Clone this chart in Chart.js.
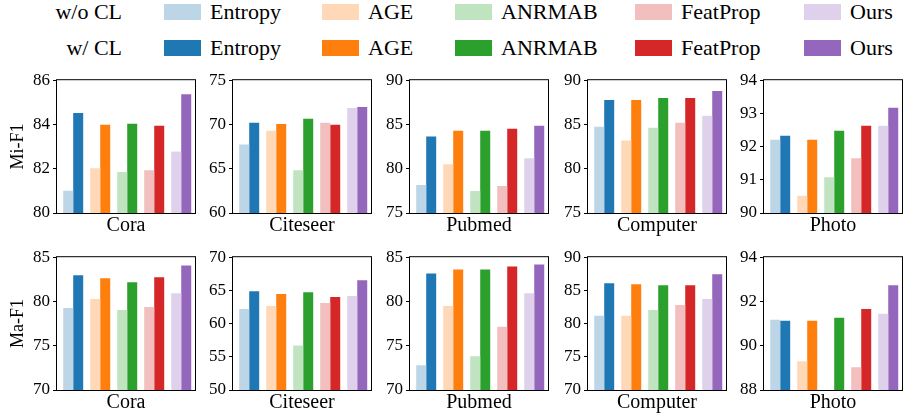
<!DOCTYPE html>
<html><head><meta charset="utf-8">
<script src="https://cdn.jsdelivr.net/npm/chart.js@4/dist/chart.umd.min.js"></script>
<style>
html,body{margin:0;padding:0;background:#fff;}
body{width:903px;height:416px;position:relative;overflow:hidden;font-family:"Liberation Serif",serif;color:#000;}
canvas{position:absolute;}
.lgt{position:absolute;font-size:22px;line-height:22px;white-space:nowrap;}
.lgb{position:absolute;width:37px;height:16px;}
</style></head><body>
<script>
// ---- data ----
const methods = ['Entropy','AGE','ANRMAB','FeatProp','Ours'];
const datasetNames = ['Cora','Citeseer','Pubmed','Computer','Photo'];
const rowTitles = ['Mi-F1','Ma-F1'];
const legendRowLabels = ['w/o CL','w/ CL'];

// Mi-F1, without / with CL
const coraMiWo     = [81.00, 82.02, 81.85, 81.93, 82.78];
const coraMiW      = [84.52, 83.99, 84.03, 83.94, 85.37];
const citeseerMiWo = [67.74, 69.30, 64.84, 70.20, 71.87];
const citeseerMiW  = [70.20, 70.05, 70.64, 69.97, 71.98];
const pubmedMiWo   = [78.16, 80.51, 77.49, 78.05, 81.18];
const pubmedMiW    = [83.63, 84.30, 84.30, 84.53, 84.86];
const computerMiWo = [84.75, 83.19, 84.64, 85.20, 85.98];
const computerMiW  = [87.76, 87.76, 87.99, 87.99, 88.77];
const photoMiWo    = [92.21, 90.52, 91.08, 91.65, 92.63];
const photoMiW     = [92.33, 92.21, 92.48, 92.63, 93.17];

// Ma-F1, without / with CL
const coraMaWo     = [79.27, 80.27, 79.04, 79.38, 80.94];
const coraMaW      = [82.95, 82.62, 82.17, 82.73, 84.07];
const citeseerMaWo = [62.21, 62.66, 56.70, 63.10, 64.14];
const citeseerMaW  = [64.89, 64.44, 64.74, 64.00, 66.53];
const pubmedMaWo   = [72.79, 79.49, 73.80, 77.15, 80.94];
const pubmedMaW    = [83.17, 83.62, 83.62, 83.96, 84.18];
const computerMaWo = [81.17, 81.17, 82.06, 82.80, 83.70];
const computerMaW  = [86.08, 85.93, 85.78, 85.78, 87.42];
const photoMaWo    = [91.17, 89.30, 87.80, 89.03, 91.44];
const photoMaW     = [91.13, 91.13, 91.26, 91.66, 92.73];

// y axis [min, max, step]
const miAxis = [[80,86,2],[60,75,5],[75,90,5],[75,90,5],[90,94,1]];
const maAxis = [[70,85,5],[50,70,5],[70,85,5],[70,90,5],[88,94,2]];

const solidColors = ['#1f77b4','#ff7f0e','#2ca02c','#d62728','#9467bd'];
const lightColors = ['#bcd6e8','#ffd9b7','#c0e3c0','#f3bebe','#dfd1eb'];

const rowsWo = [[coraMiWo,citeseerMiWo,pubmedMiWo,computerMiWo,photoMiWo],[coraMaWo,citeseerMaWo,pubmedMaWo,computerMaWo,photoMaWo]];
const rowsW  = [[coraMiW,citeseerMiW,pubmedMiW,computerMiW,photoMiW],[coraMaW,citeseerMaW,pubmedMaW,computerMaW,photoMaW]];
const rowsAxis = [miAxis, maAxis];

// ---- layout ----
const FONT = 'Liberation Serif';
Chart.defaults.font.family = FONT;
Chart.defaults.color = '#000';
const plotLefts = [57,233,410,588,764];
const plotTops = [79,256];
const plotW = 138, plotH = 134, padTop = 12, xH = 24;

// legend
legendRowLabels.forEach((lab, r) => {
  const cy = r === 0 ? 12 : 48;
  const t = document.createElement('div');
  t.className = 'lgt'; t.textContent = lab;
  t.style.right = (903 - 122) + 'px'; t.style.top = (cy - 11) + 'px';
  document.body.appendChild(t);
  const boxX = [164,322,455,635,804];
  methods.forEach((m, i) => {
    const b = document.createElement('div');
    b.className = 'lgb';
    b.style.left = boxX[i] + 'px'; b.style.top = (cy - 8) + 'px';
    b.style.background = r === 0 ? lightColors[i] : solidColors[i];
    document.body.appendChild(b);
    const tx = document.createElement('div');
    tx.className = 'lgt'; tx.textContent = m;
    tx.style.left = (boxX[i] + 46) + 'px'; tx.style.top = (cy - 11) + 'px';
    document.body.appendChild(tx);
  });
});

const framePlugin = {
  id: 'frame',
  afterDraw(chart) {
    const {ctx, chartArea: a} = chart;
    ctx.save();
    ctx.strokeStyle = '#000';
    ctx.lineWidth = 1;
    ctx.strokeRect(a.left - 0.5, a.top - 0.5, a.right - a.left + 1, a.bottom - a.top + 1);
    ctx.restore();
  }
};

for (let r = 0; r < 2; r++) {
  for (let d = 0; d < 5; d++) {
    const axisW = d === 0 ? 57 : 40;
    const cv = document.createElement('canvas');
    const W = axisW + plotW + 1, H = padTop + plotH + xH;
    cv.width = W; cv.height = H;
    cv.style.width = W + 'px'; cv.style.height = H + 'px';
    cv.style.left = (plotLefts[d] - axisW) + 'px';
    cv.style.top = (plotTops[r] - padTop) + 'px';
    document.body.appendChild(cv);
    const [ymin, ymax, step] = rowsAxis[r][d];
    const wo = rowsWo[r][d], w = rowsW[r][d];
    new Chart(cv, {
      type: 'bar',
      data: {
        datasets: [
          { label: 'w/o CL', data: wo.map((v,i)=>({x:i,y:v})), backgroundColor: lightColors, borderWidth: 0 },
          { label: 'w/ CL', data: w.map((v,i)=>({x:i,y:v})), backgroundColor: solidColors, borderWidth: 0 }
        ]
      },
      options: {
        responsive: false, animation: false, devicePixelRatio: 1,
        layout: { padding: { top: padTop, right: 1, left: 0, bottom: 0 } },
        categoryPercentage: 0.74, barPercentage: 1.0,
        plugins: { legend: { display: false }, tooltip: { enabled: false } },
        scales: {
          x: {
            type: 'linear', min: -0.6, max: 4.51, offset: false,
            ticks: { display: false },
            grid: { display: false }, border: { display: false },
            title: { display: true, text: datasetNames[d], font: { size: 20, lineHeight: 1 }, color: '#000', padding: { top: 0, bottom: 1.5 } },
            afterFit(s) { s.height = xH; }
          },
          y: {
            min: ymin, max: ymax,
            ticks: { stepSize: step, font: { size: 17 }, color: '#000', padding: 3 },
            grid: { drawOnChartArea: false, drawTicks: true, tickLength: 4, color: '#000', tickColor: '#000' },
            border: { display: false },
            title: { display: d === 0, text: rowTitles[r], font: { size: 18, lineHeight: 1 }, color: '#000', padding: { top: 9, bottom: 0 } },
            afterFit(s) { s.width = axisW; }
          }
        }
      },
      plugins: [framePlugin]
    });
  }
}
</script>
</body></html>
